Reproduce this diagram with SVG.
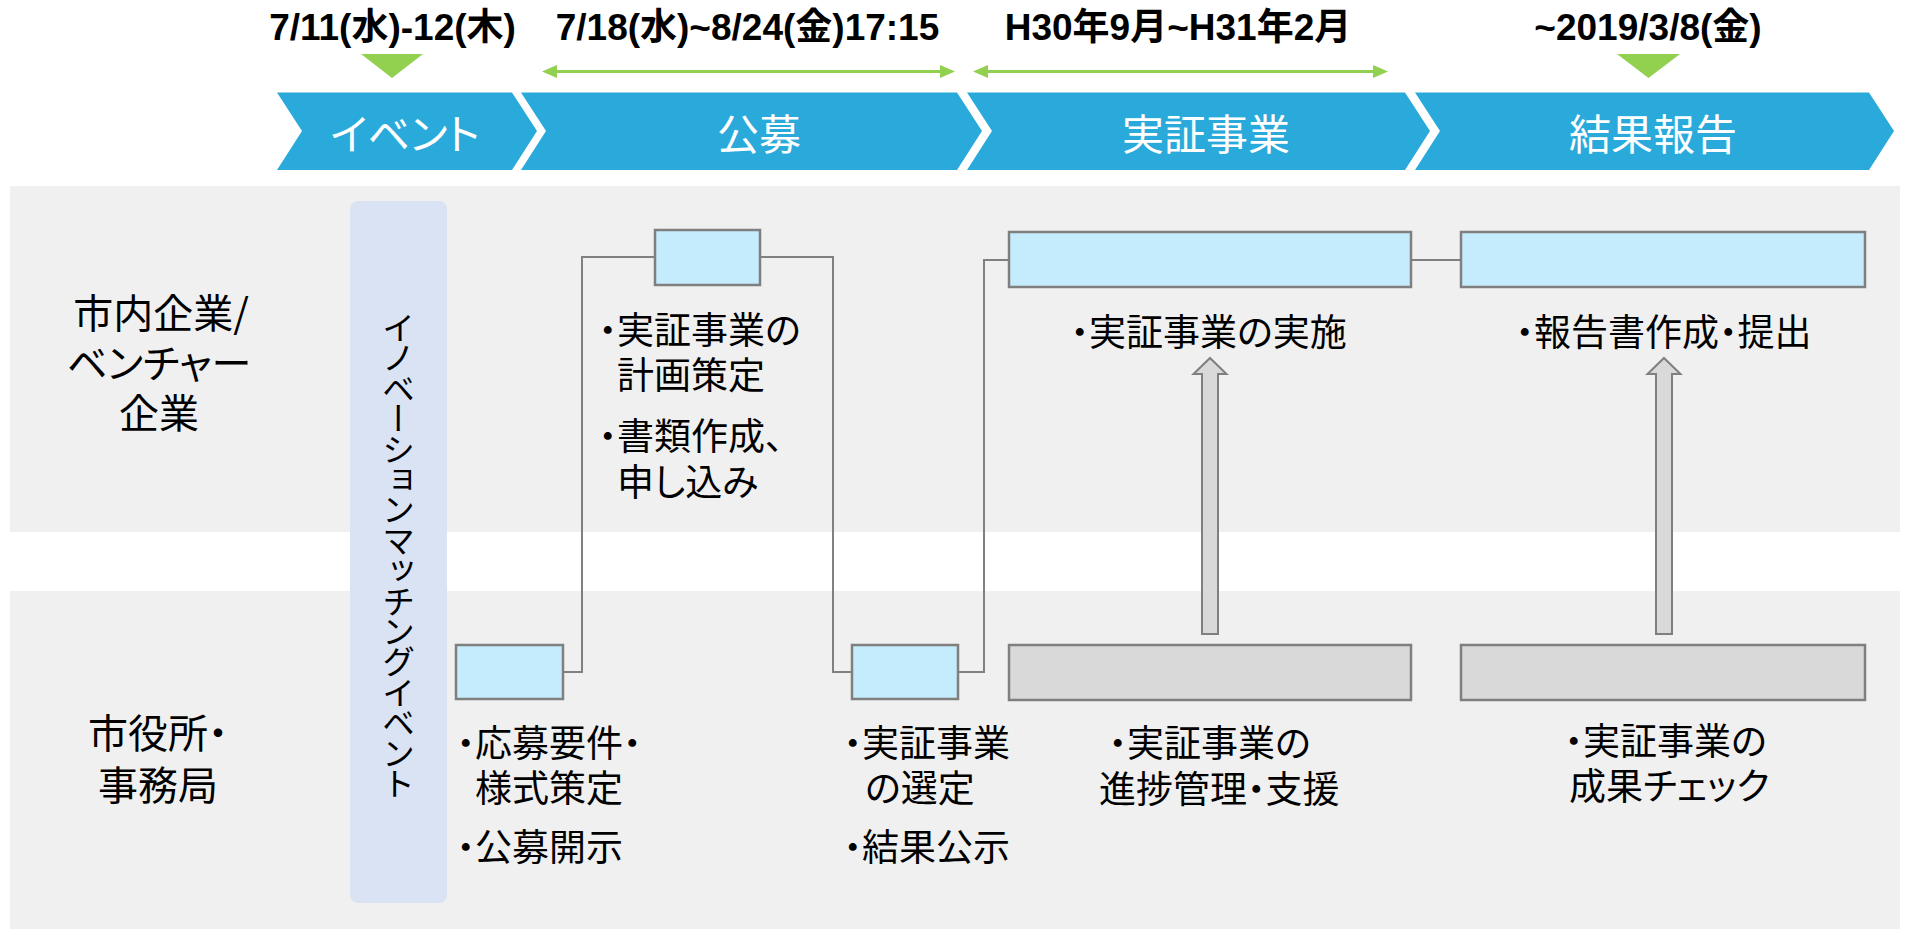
<svg xmlns="http://www.w3.org/2000/svg" width="1908" height="931" viewBox="0 0 1908 931">
<defs>
<style>
.hdr{font-family:"Liberation Sans","Noto Sans CJK JP",sans-serif;font-weight:bold;font-size:37px;fill:#000;text-anchor:middle}
.chev{fill:#2AAADB}
.ctext{font-family:"Noto Sans CJK JP",sans-serif;font-size:42px;fill:#fff;text-anchor:middle;dominant-baseline:central;font-feature-settings:"palt" 1}
.lane{fill:#F0F0F0}
.lbl{font-family:"Noto Sans CJK JP",sans-serif;font-size:40px;fill:#000;dominant-baseline:central;font-feature-settings:"palt" 1}
.t{font-family:"Noto Sans CJK JP",sans-serif;font-size:37px;fill:#000;dominant-baseline:central;font-feature-settings:"palt" 1}
.blue{fill:#C5ECFC;stroke:#7F7F7F;stroke-width:2.5}
.gray{fill:#D9D9D9;stroke:#7F7F7F;stroke-width:2.5}
.conn{fill:none;stroke:#808080;stroke-width:2}
.up{fill:#D9D9D9;stroke:#7F7F7F;stroke-width:2}
.grn{fill:#92D050}
.gline{stroke:#92D050;stroke-width:3}
.vt{font-family:"Noto Sans CJK JP",sans-serif;font-size:33px;fill:#000;writing-mode:vertical-rl;letter-spacing:-2.6px}
</style>
</defs>
<rect width="1908" height="931" fill="#fff"/>

<!-- timeline headers -->
<g id="dates">
<text class="hdr" x="392.5" y="39.5">7/11(水)-12(木)</text>
<text class="hdr" x="747.5" y="39.5">7/18(水)~8/24(金)17:15</text>
<text class="hdr" x="1178" y="39.5">H30年9月~H31年2月</text>
<text class="hdr" x="1648" y="39.5">~2019/3/8(金)</text>
</g>
<g id="markers">
<polygon class="grn" points="361,54 423,54 392,78"/>
<polygon class="grn" points="1617,54 1680,54 1648.5,78"/>
<line class="gline" x1="552" y1="71.5" x2="945" y2="71.5"/>
<polygon class="grn" points="542,71.5 557,65 557,78"/>
<polygon class="grn" points="955,71.5 940,65 940,78"/>
<line class="gline" x1="983" y1="71.5" x2="1378" y2="71.5"/>
<polygon class="grn" points="973,71.5 988,65 988,78"/>
<polygon class="grn" points="1388,71.5 1373,65 1373,78"/>
</g>

<!-- phase chevrons -->
<g id="phase-event">
<polygon class="chev" points="277,92.5 512,92.5 537,131 512,170 277,170 302,131"/>
<text class="ctext" x="405" y="131">イベント</text>
</g>
<g id="phase-koubo">
<polygon class="chev" points="521,92.5 957,92.5 982,131 957,170 521,170 546,131"/>
<text class="ctext" x="759" y="131">公募</text>
</g>
<g id="phase-jissho">
<polygon class="chev" points="967,92.5 1405,92.5 1430,131 1405,170 967,170 992,131"/>
<text class="ctext" x="1206" y="131">実証事業</text>
</g>
<g id="phase-kekka">
<polygon class="chev" points="1415,92.5 1869,92.5 1894,131 1869,170 1415,170 1440,131"/>
<text class="ctext" x="1653" y="131">結果報告</text>
</g>

<!-- swimlanes -->
<g id="lane-company">
<rect class="lane" x="10" y="186" width="1890" height="346"/>
<text class="lbl" text-anchor="middle"><tspan x="161" y="311">市内企業/</tspan><tspan x="159" y="361">ベンチャー</tspan><tspan x="159" y="411">企業</tspan></text>
</g>
<g id="lane-city">
<rect class="lane" x="10" y="591" width="1890" height="338"/>
<text class="lbl"><tspan x="88" y="731">市役所・</tspan><tspan x="98" y="783">事務局</tspan></text>
</g>

<!-- event bar -->
<g id="event-bar">
<rect x="350" y="201" width="97" height="702" rx="8" fill="#DAE3F3"/>
<text class="vt" x="398.5" y="311">イノベーションマッチングイベント</text>
</g>

<!-- connectors -->
<g id="connectors">
<polyline class="conn" points="563,672 582,672 582,257 655,257"/>
<polyline class="conn" points="760,257 833,257 833,672 852,672"/>
<polyline class="conn" points="958,672 984,672 984,260 1009,260"/>
<line class="conn" x1="1411" y1="260" x2="1461" y2="260"/>
<polygon class="up" points="1210,358 1226.5,374 1218,374 1218,634 1202,634 1202,374 1193.5,374"/>
<polygon class="up" points="1664,358 1680.5,374 1672,374 1672,634 1656,634 1656,374 1647.5,374"/>
</g>

<!-- nodes -->
<g id="node-oubo">
<rect class="blue" x="456" y="645" width="107" height="54"/>
<text class="t"><tspan x="456.5" y="741">・応募要件・</tspan><tspan x="475" y="786">様式策定</tspan><tspan x="456.5" y="845">・公募開示</tspan></text>
</g>
<g id="node-keikaku">
<rect class="blue" x="655" y="230" width="105" height="55"/>
<text class="t"><tspan x="598.5" y="328">・実証事業の</tspan><tspan x="617" y="373">計画策定</tspan><tspan x="598.5" y="434">・書類作成、</tspan><tspan x="617" y="480">申し込み</tspan></text>
</g>
<g id="node-sentei">
<rect class="blue" x="852" y="645" width="106" height="54"/>
<text class="t"><tspan x="843.5" y="741">・実証事業</tspan><tspan x="865" y="786">の選定</tspan><tspan x="843.5" y="845">・結果公示</tspan></text>
</g>
<g id="node-jisshi">
<rect class="blue" x="1009" y="232" width="402" height="55"/>
<text class="t" x="1070.5" y="330">・実証事業の実施</text>
</g>
<g id="node-houkoku">
<rect class="blue" x="1461" y="232" width="404" height="55"/>
<text class="t" x="1515.5" y="330">・報告書作成・提出</text>
</g>
<g id="node-shinchoku">
<rect class="gray" x="1009" y="645" width="402" height="55"/>
<text class="t"><tspan x="1108.5" y="741">・実証事業の</tspan><tspan x="1099" y="787">進捗管理・支援</tspan></text>
</g>
<g id="node-seika">
<rect class="gray" x="1461" y="645" width="404" height="55"/>
<text class="t"><tspan x="1564.5" y="739">・実証事業の</tspan><tspan x="1569" y="784">成果チェック</tspan></text>
</g>
</svg>
